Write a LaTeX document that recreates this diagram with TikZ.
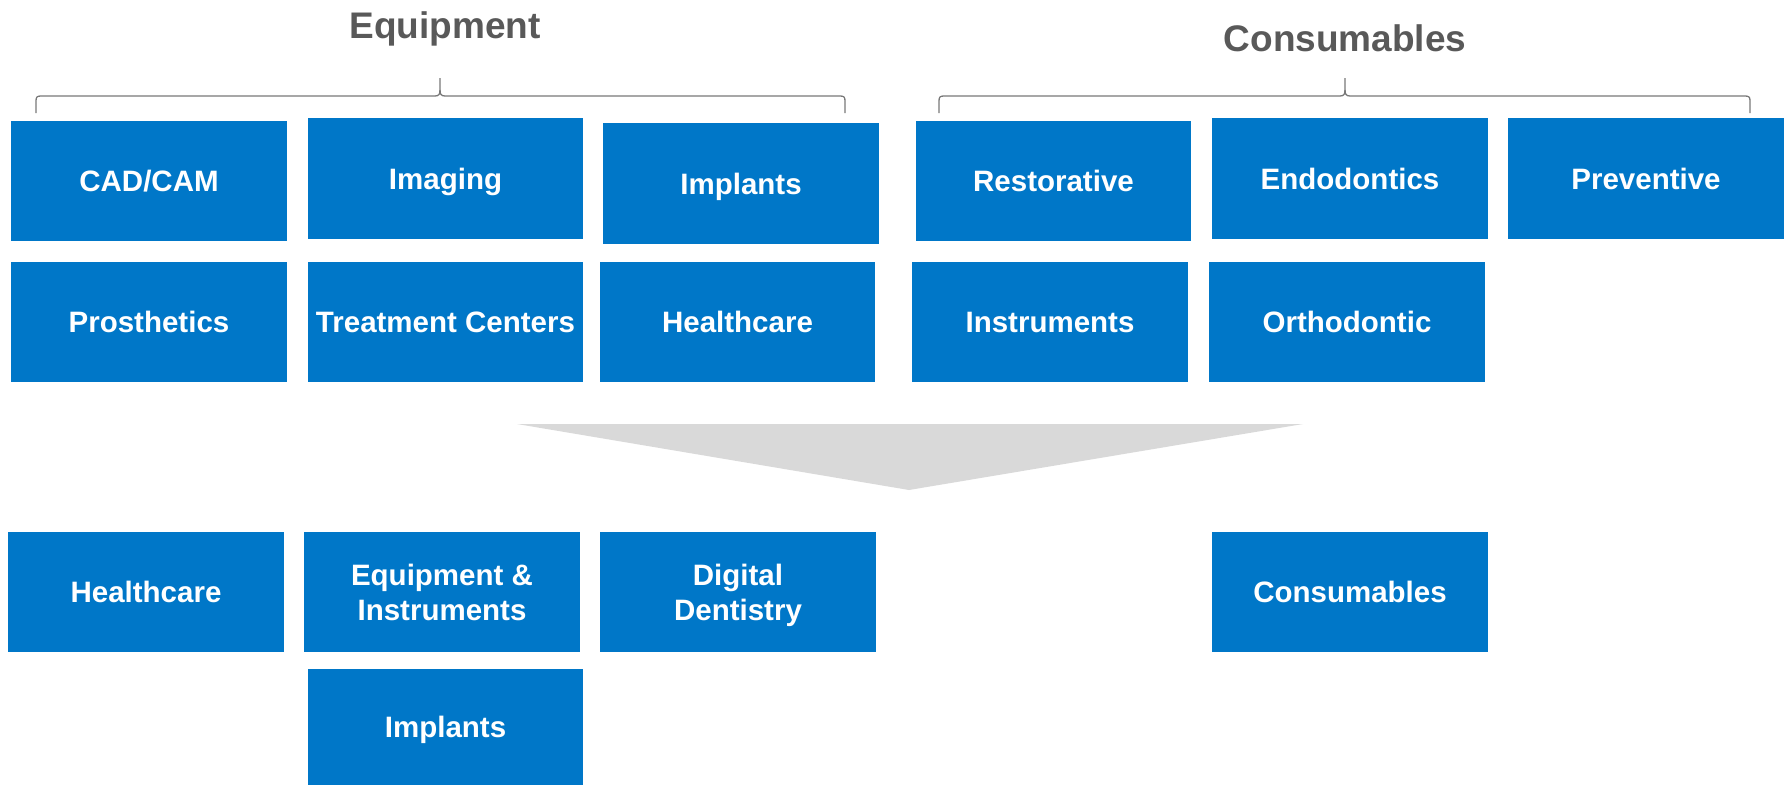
\documentclass[tikz,border=0pt]{standalone}
\usepackage{fontspec}
\setmainfont{Liberation Sans}
\definecolor{boxblue}{RGB}{0,119,200}
\definecolor{titlegrey}{RGB}{89,89,89}
\definecolor{bracegrey}{RGB}{120,120,120}
\definecolor{arrowgrey}{RGB}{217,217,217}
\begin{document}
\begin{tikzpicture}[x=1pt,y=-1pt,
  catbox/.style={fill=boxblue, draw=none, text=white, minimum width=276pt, minimum height=120pt,
    inner sep=0pt, align=center, text height=26pt, text depth=5pt,
    font=\fontsize{29.5}{35}\selectfont\bfseries},
  twoline/.style={text height=61pt, text depth=5pt},
  title/.style={text=titlegrey, anchor=base, inner sep=0pt, font=\fontsize{37}{40}\selectfont\bfseries},
  bracket/.style={draw=bracegrey, line width=1.3pt}]
\useasboundingbox (0,0) rectangle (1786,785);
% titles
\node[title] (teq) at (445,38) {Equipment};
\node[title] (tco) at (1345,51) {Consumables};
% braces
\coordinate (bl1) at (36,113);
\coordinate (br1) at (845,113);
\coordinate (bt1) at (440,78);
\draw[bracket] (bl1) -- (36,101) .. controls (36,97) and (37,96) .. (41,96) -- (435,96)
  .. controls (439,96) and (440,94) .. (440,90) -- (bt1);
\draw[bracket] (br1) -- (845,101) .. controls (845,97) and (844,96) .. (840,96) -- (445,96)
  .. controls (441,96) and (440,94) .. (440,90);
\coordinate (bl2) at (939,113);
\coordinate (br2) at (1750,113);
\coordinate (bt2) at (1345,78);
\draw[bracket] (bl2) -- (939,101) .. controls (939,97) and (940,96) .. (944,96) -- (1340,96)
  .. controls (1344,96) and (1345,94) .. (1345,90) -- (bt2);
\draw[bracket] (br2) -- (1750,101) .. controls (1750,97) and (1749,96) .. (1745,96) -- (1350,96)
  .. controls (1346,96) and (1345,94) .. (1345,90);
% top boxes
\node[catbox, minimum width=276pt] (cad) at (149,181) {CAD/CAM};
\node[catbox, minimum width=275pt, minimum height=121pt] (img) at (445.5,178.5) {Imaging};
\node[catbox, minimum width=276pt, minimum height=121pt] (imp) at (741,183.5) {Implants};
\node[catbox] (pro) at (149,322) {Prosthetics};
\node[catbox, minimum width=275pt] (trc) at (445.5,322) {Treatment Centers};
\node[catbox, minimum width=275pt] (hc1) at (737.5,322) {Healthcare};
\node[catbox, minimum width=275pt] (res) at (1053.5,181) {Restorative};
\node[catbox, minimum height=121pt] (end) at (1350,178.5) {Endodontics};
\node[catbox, minimum height=121pt] (pre) at (1646,178.5) {Preventive};
\node[catbox] (ins) at (1050,322) {Instruments};
\node[catbox] (ort) at (1347,322) {Orthodontic};
% grey funnel
\coordinate (fl) at (517,424);
\coordinate (fr) at (1303,424);
\coordinate (ft) at (909,490);
\fill[arrowgrey] (fl) -- (fr) -- (ft) -- cycle;
% bottom boxes
\node[catbox] (hc2) at (146,592) {Healthcare};
\node[catbox, twoline] (eqi) at (442,592) {Equipment \&\\Instruments};
\node[catbox, twoline] (dig) at (738,592) {Digital\\Dentistry};
\node[catbox, minimum width=275pt, minimum height=116pt] (imp2) at (445.5,727) {Implants};
\node[catbox] (con) at (1350,592) {Consumables};
\end{tikzpicture}
\end{document}
